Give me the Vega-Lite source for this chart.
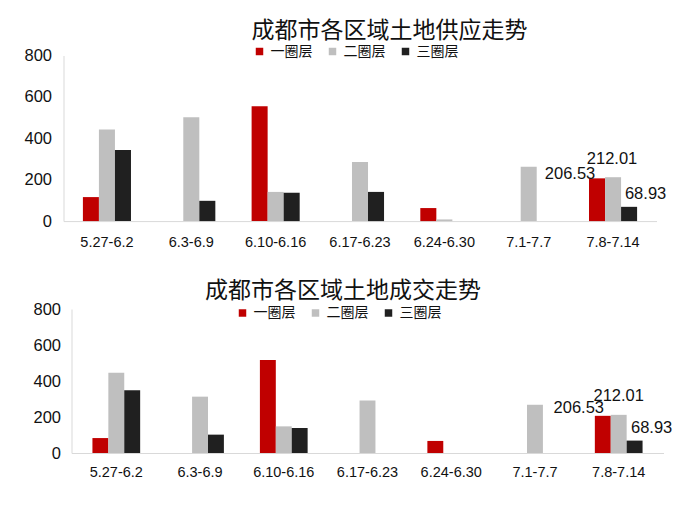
{
  "$schema": "https://vega.github.io/schema/vega-lite/v6.json",
  "background": "white",
  "padding": {"left": 23.5, "top": 19.5, "right": 10, "bottom": 5},
  "config": {
    "font": "Liberation Sans, Noto Sans CJK SC",
    "view": {"stroke": null},
    "axisY": {"domainColor": "#d9d9d9", "ticks": false, "grid": false, "labelFontSize": 16.5, "labelColor": "#111111", "labelPadding": 12, "title": null},
    "axisX": {"domainColor": "#d9d9d9", "ticks": false, "grid": false, "labelFontSize": 14.5, "labelColor": "#111111", "labelPadding": 14, "labelAngle": 0, "title": null},
    "legend": {"orient": "none", "direction": "horizontal", "symbolType": "square", "symbolSize": 56, "labelFontSize": 14, "labelFont": "Noto Sans CJK SC", "labelColor": "#111111", "labelOffset": 4, "columnPadding": 13, "title": null, "symbolStrokeWidth": 0},
    "title": {"fontSize": 23, "fontWeight": "normal", "color": "#111111", "font": "Noto Sans CJK SC", "anchor": "middle", "frame": "group"}
  },
  "datasets": {
    "supply": [
      {"week": "5.27-6.2", "ring": "一圈层", "value": 116},
      {"week": "5.27-6.2", "ring": "二圈层", "value": 442},
      {"week": "5.27-6.2", "ring": "三圈层", "value": 343},
      {"week": "6.3-6.9", "ring": "一圈层", "value": 0},
      {"week": "6.3-6.9", "ring": "二圈层", "value": 502},
      {"week": "6.3-6.9", "ring": "三圈层", "value": 98},
      {"week": "6.10-6.16", "ring": "一圈层", "value": 555},
      {"week": "6.10-6.16", "ring": "二圈层", "value": 141},
      {"week": "6.10-6.16", "ring": "三圈层", "value": 137},
      {"week": "6.17-6.23", "ring": "一圈层", "value": 0},
      {"week": "6.17-6.23", "ring": "二圈层", "value": 285},
      {"week": "6.17-6.23", "ring": "三圈层", "value": 141},
      {"week": "6.24-6.30", "ring": "一圈层", "value": 63},
      {"week": "6.24-6.30", "ring": "二圈层", "value": 8},
      {"week": "6.24-6.30", "ring": "三圈层", "value": 0},
      {"week": "7.1-7.7", "ring": "一圈层", "value": 0},
      {"week": "7.1-7.7", "ring": "二圈层", "value": 262},
      {"week": "7.1-7.7", "ring": "三圈层", "value": 0},
      {"week": "7.8-7.14", "ring": "一圈层", "value": 206.53},
      {"week": "7.8-7.14", "ring": "二圈层", "value": 212.01},
      {"week": "7.8-7.14", "ring": "三圈层", "value": 68.93}
    ],
    "deal": [
      {"week": "5.27-6.2", "ring": "一圈层", "value": 83},
      {"week": "5.27-6.2", "ring": "二圈层", "value": 446},
      {"week": "5.27-6.2", "ring": "三圈层", "value": 348},
      {"week": "6.3-6.9", "ring": "一圈层", "value": 0},
      {"week": "6.3-6.9", "ring": "二圈层", "value": 313},
      {"week": "6.3-6.9", "ring": "三圈层", "value": 102},
      {"week": "6.10-6.16", "ring": "一圈层", "value": 517},
      {"week": "6.10-6.16", "ring": "二圈层", "value": 148},
      {"week": "6.10-6.16", "ring": "三圈层", "value": 139},
      {"week": "6.17-6.23", "ring": "一圈层", "value": 0},
      {"week": "6.17-6.23", "ring": "二圈层", "value": 291},
      {"week": "6.17-6.23", "ring": "三圈层", "value": 0},
      {"week": "6.24-6.30", "ring": "一圈层", "value": 67},
      {"week": "6.24-6.30", "ring": "二圈层", "value": 0},
      {"week": "6.24-6.30", "ring": "三圈层", "value": 0},
      {"week": "7.1-7.7", "ring": "一圈层", "value": 0},
      {"week": "7.1-7.7", "ring": "二圈层", "value": 268},
      {"week": "7.1-7.7", "ring": "三圈层", "value": 0},
      {"week": "7.8-7.14", "ring": "一圈层", "value": 206.53},
      {"week": "7.8-7.14", "ring": "二圈层", "value": 212.01},
      {"week": "7.8-7.14", "ring": "三圈层", "value": 68.93}
    ]
  },
  "vconcat": [
    {
      "width": 593,
      "height": 165.6,
      "title": {"text": "成都市各区域土地供应走势", "dx": 29.5, "offset": 2},
      "data": {"name": "supply"},
      "encoding": {
        "x": {"field": "week", "type": "nominal", "sort": null, "scale": {"paddingInner": 0.43, "paddingOuter": 0.23}},
        "xOffset": {"field": "ring", "type": "nominal", "sort": ["一圈层", "二圈层", "三圈层"], "scale": {"paddingInner": 0, "paddingOuter": 0}},
        "y": {"field": "value", "type": "quantitative", "scale": {"domain": [0, 800]}, "axis": {"values": [0, 200, 400, 600, 800]}}
      },
      "layer": [
        {
          "mark": {"type": "bar"},
          "encoding": {
            "color": {"field": "ring", "type": "nominal", "sort": ["一圈层", "二圈层", "三圈层"],
              "scale": {"domain": ["一圈层", "二圈层", "三圈层"], "range": ["#C00000", "#BFBFBF", "#202020"]},
              "legend": {"legendX": 189, "legendY": -11}}
          }
        },
        {
          "transform": [{"filter": "datum.week === '7.8-7.14' && datum.ring === '一圈层'"}],
          "mark": {"type": "text", "fontSize": 16.5, "color": "#111111", "baseline": "middle", "dx": -27, "dy": -4},
          "encoding": {"text": {"field": "value", "type": "quantitative", "format": ".2f"}}
        },
        {
          "transform": [{"filter": "datum.week === '7.8-7.14' && datum.ring === '二圈层'"}],
          "mark": {"type": "text", "fontSize": 16.5, "color": "#111111", "baseline": "middle", "dx": -1, "dy": -18.5},
          "encoding": {"text": {"field": "value", "type": "quantitative", "format": ".2f"}}
        },
        {
          "transform": [{"filter": "datum.week === '7.8-7.14' && datum.ring === '三圈层'"}],
          "mark": {"type": "text", "fontSize": 16.5, "color": "#111111", "baseline": "middle", "dx": 16.5, "dy": -13},
          "encoding": {"text": {"field": "value", "type": "quantitative", "format": ".2f"}}
        }
      ]
    },
    {
      "width": 600,
      "height": 144,
      "title": {"text": "成都市各区域土地成交走势", "dx": -20.5, "offset": -2},
      "data": {"name": "deal"},
      "encoding": {
        "x": {"field": "week", "type": "nominal", "sort": null, "scale": {"range": [8, 600], "paddingInner": 0.43, "paddingOuter": 0.25}, "axis": {"labelPadding": 12.5}},
        "xOffset": {"field": "ring", "type": "nominal", "sort": ["一圈层", "二圈层", "三圈层"], "scale": {"paddingInner": 0, "paddingOuter": 0}},
        "y": {"field": "value", "type": "quantitative", "scale": {"domain": [0, 800]}, "axis": {"values": [0, 200, 400, 600, 800], "offset": -8, "labelPadding": 11}}
      },
      "layer": [
        {
          "mark": {"type": "bar"},
          "encoding": {
            "color": {"field": "ring", "type": "nominal", "sort": ["一圈层", "二圈层", "三圈层"],
              "scale": {"domain": ["一圈层", "二圈层", "三圈层"], "range": ["#C00000", "#BFBFBF", "#202020"]},
              "legend": {"legendX": 172, "legendY": -3}}
          }
        },
        {
          "transform": [{"filter": "datum.week === '7.8-7.14' && datum.ring === '一圈层'"}],
          "mark": {"type": "text", "fontSize": 16.5, "color": "#111111", "baseline": "middle", "dx": -24, "dy": -8},
          "encoding": {"text": {"field": "value", "type": "quantitative", "format": ".2f"}}
        },
        {
          "transform": [{"filter": "datum.week === '7.8-7.14' && datum.ring === '二圈层'"}],
          "mark": {"type": "text", "fontSize": 16.5, "color": "#111111", "baseline": "middle", "dx": 0, "dy": -19},
          "encoding": {"text": {"field": "value", "type": "quantitative", "format": ".2f"}}
        },
        {
          "transform": [{"filter": "datum.week === '7.8-7.14' && datum.ring === '三圈层'"}],
          "mark": {"type": "text", "fontSize": 16.5, "color": "#111111", "baseline": "middle", "dx": 17, "dy": -13},
          "encoding": {"text": {"field": "value", "type": "quantitative", "format": ".2f"}}
        }
      ]
    }
  ],
  "spacing": 30.5,
  "resolve": {"scale": {"color": "independent", "x": "independent", "y": "independent", "xOffset": "independent"}}
}
